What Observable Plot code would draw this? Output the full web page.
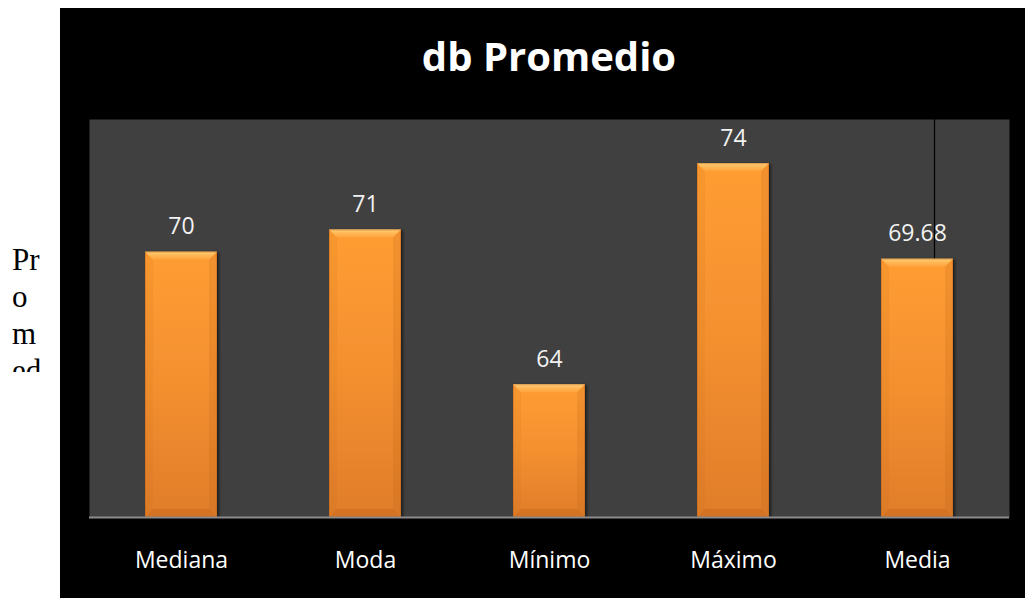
<!DOCTYPE html>
<html>
<head>
<meta charset="utf-8">
<script src="https://cdn.jsdelivr.net/npm/d3@7"></script>
<script src="https://cdn.jsdelivr.net/npm/@observablehq/plot@0.6"></script>
<style>
  html, body { margin: 0; padding: 0; background: #ffffff; width: 1025px; height: 598px; overflow: hidden; }
  #side { position: absolute; left: 12px; top: 241px; width: 44px; height: 131px; overflow: hidden;
          font-family: "Liberation Serif", "DejaVu Serif", serif; font-size: 31px; line-height: 37px; color: #000; }
  #chart { position: absolute; left: 60px; top: 8px; width: 965px; height: 590px; background: #000; }
  #title { position: absolute; left: 29px; width: 920px; top: 28px; text-align: center;
           font-family: "Open Sans", sans-serif; font-weight: bold; font-size: 40px; line-height: 40px; color: #fff; }
  #plot { position: absolute; left: 0; top: 111px; }
</style>
</head>
<body>
<div id="side">Pr<br>o<br>m<br>ed</div>
<div id="chart">
  <div id="title">db Promedio</div>
  <div id="plot"></div>
</div>
<script>
const categories = ["Mediana", "Moda", "Mínimo", "Máximo", "Media"];
const values = [70, 71, 64, 74, 69.68];
const valueLabels = ["70", "71", "64", "74", "69.68"];
const yDomain = [58, 76];
const markerCategory = ["Media"];

const data = categories.map((c, i) => ({category: c, value: values[i], label: valueLabels[i]}));

const NS = "http://www.w3.org/2000/svg";
function defsMark() {
  const defs = document.createElementNS(NS, "defs");
  defs.innerHTML = `
    <linearGradient id="barGrad" x1="0" y1="0" x2="0" y2="1">
      <stop offset="0" stop-color="#FF9D33"/>
      <stop offset="0.5" stop-color="#F4902F"/>
      <stop offset="1" stop-color="#E07D2B"/>
    </linearGradient>
    <linearGradient id="topBevel" x1="0" y1="0" x2="0" y2="1">
      <stop offset="0" stop-color="#FFD27E"/>
      <stop offset="0.35" stop-color="#FFBC5C"/>
      <stop offset="1" stop-color="#FFA23C"/>
    </linearGradient>
    <filter id="shadow" x="-20%" y="-5%" width="140%" height="110%">
      <feDropShadow dx="2" dy="1" stdDeviation="1.5" flood-color="#000" flood-opacity="0.55"/>
    </filter>`;
  return defs;
}

const svg = Plot.plot({
  width: 965,
  height: 479,
  marginLeft: 29,
  marginRight: 16,
  marginTop: 0,
  marginBottom: 81,
  style: {background: "transparent", color: "#ffffff", fontFamily: "'Open Sans', sans-serif", overflow: "visible"},
  x: {domain: categories, paddingInner: 0.61, paddingOuter: 0.305, label: null},
  y: {domain: yDomain, axis: null},
  marks: [
    defsMark,
    Plot.frame({fill: "#404040", stroke: null}),
    Plot.text(data, {x: "category", y: "value", text: "label", dy: -18, lineAnchor: "bottom",
                     fill: "#f2f2f2", fontSize: 23}),
    Plot.ruleX(markerCategory, {x: d => d, y1: yDomain[1], y2: 57.86, dx: 17, stroke: "#000", strokeWidth: 1.2}),
    Plot.barY(data, {x: "category", y1: yDomain[0], y2: "value", fill: "url(#barGrad)"}),
    Plot.ruleY([yDomain[0]], {stroke: "#8c8c8c", strokeWidth: 2}),
    Plot.axisX({tickSize: 0, tickPadding: 34, fontSize: 23, fill: "#ffffff", label: null})
  ]
});

// bevel decoration on each bar rect
const barGroup = svg.querySelector('g[aria-label="bar"]');
if (barGroup) {
  barGroup.setAttribute("filter", "url(#shadow)");
  const rects = Array.from(barGroup.querySelectorAll("rect"));
  rects.forEach(r => {
    const x = +r.getAttribute("x"), y = +r.getAttribute("y");
    const w = +r.getAttribute("width"), h = +r.getAttribute("height");
    const b = 8;
    const parent = r.parentNode;
    const add = (pts, fill, op) => {
      const p = document.createElementNS(NS, "polygon");
      p.setAttribute("points", pts.map(q => q.join(",")).join(" "));
      p.setAttribute("fill", fill);
      if (op != null) p.setAttribute("fill-opacity", op);
      parent.insertBefore(p, r.nextSibling);
    };
    add([[x, y + h], [x + w, y + h], [x + w - b, y + h - b], [x + b, y + h - b]], "#C8691F", 0.55);
    add([[x, y], [x + b, y + b], [x + b, y + h - b], [x, y + h]], "#B86018", 0.10);
    add([[x + w, y], [x + w - b, y + b], [x + w - b, y + h - b], [x + w, y + h]], "#B86018", 0.18);
    add([[x, y], [x + w, y], [x + w - b, y + b], [x + b, y + b]], "url(#topBevel)", 1);
    const edge = document.createElementNS(NS, "rect");
    edge.setAttribute("x", x + 0.5); edge.setAttribute("y", y + 0.5);
    edge.setAttribute("width", w - 1); edge.setAttribute("height", h - 1);
    edge.setAttribute("fill", "none"); edge.setAttribute("stroke", "#B5621E"); edge.setAttribute("stroke-opacity", 0.4);
    parent.appendChild(edge);
  });
}

document.getElementById("plot").appendChild(svg);
</script>
</body>
</html>
